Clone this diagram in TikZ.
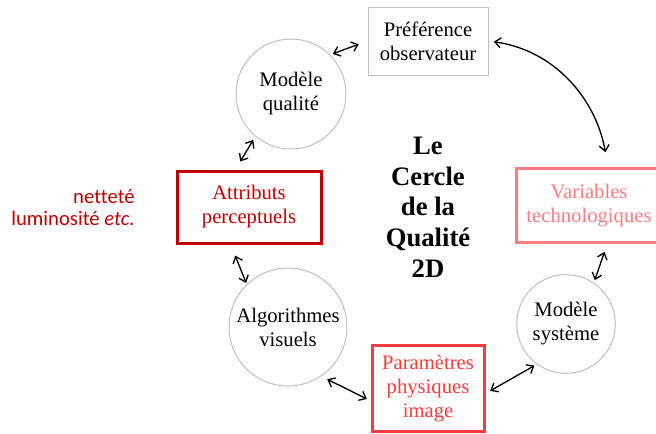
\documentclass[tikz,border=0pt]{standalone}
\usepackage{fontspec}
\setmainfont{Liberation Serif}
\newfontfamily\notefont[Ligatures=NoCommon]{Carlito}
\usepackage{xcolor}
\usepackage{tikz}
\usetikzlibrary{arrows.meta,calc}
\definecolor{cAttr}{HTML}{C00000}
\definecolor{cVar}{HTML}{FF7C80}
\definecolor{cParam}{HTML}{FF3B3B}
\definecolor{cGrey}{HTML}{BFBFBF}

\begin{document}
\begin{tikzpicture}[x=0.75pt,y=-0.75pt]
  \tikzset{
    txt/.style={align=center, font=\fontsize{15.5}{18}\selectfont, inner sep=0pt},
    grbox/.style={txt, draw=cGrey, line width=0.75pt, rectangle},
    redbox/.style={txt, draw=#1, text=#1, line width=2.25pt, rectangle},
    ring/.style={txt, draw=cGrey, line width=0.75pt, circle},
    dbl/.style={{Straight Barb[length=4.5pt,width=7.5pt]}-{Straight Barb[length=4.5pt,width=7.5pt]}, line width=1pt},
  }
  \useasboundingbox (0,0) rectangle (656,433);
  % boxes
  \node[grbox, minimum width=90pt, minimum height=51pt] (pref) at (428,41) {Préférence\\observateur};
  \node[redbox=cAttr, minimum width=108pt, minimum height=54pt] (attr) at (249,207) {Attributs\\perceptuels};
  \node[redbox=cVar, minimum width=109.5pt, minimum height=56pt] (var) at (589,205.5) {Variables\\technologiques};
  \node[redbox=cParam, minimum width=84pt, minimum height=64pt] (param) at (428,388.5) {Paramètres\\physiques\\image};
  % circles
  \node[ring, minimum size=82.5pt] (qual) at (291,94) {Modèle\\qualité};
  \node[ring, minimum size=74pt] (sys) at (566,324) {Modèle\\système};
  \node[ring, minimum size=88.5pt] (algo) at (288,327) {Algorithmes\\visuels};
  % texts
  \node[align=center, font=\fontsize{20}{23}\selectfont\bfseries] (title) at (428,207)
    {Le\\Cercle\\de la\\Qualité\\2D};
  \node[align=right, anchor=east, text=cAttr, inner sep=0pt,
    font=\notefont\fontsize{15.5}{16.5}\selectfont] (note) at (135,208)
    {netteté\\luminosité \textit{etc.}};
  % links
  \draw[dbl, shorten <=2pt, shorten >=7pt] (qual.45) -- (pref.west);
  \draw[dbl, shorten <=3pt, shorten >=7pt] (qual.230) -- (attr.110);
  \draw[dbl, shorten <=9pt, shorten >=1pt] (attr.244) -- (algo.134);
  \draw[dbl, shorten <=5pt, shorten >=3pt] (algo.-56) -- (param.192);
  \draw[dbl, shorten <=4pt, shorten >=2pt] (param.-5) -- (sys.234);
  \draw[dbl, shorten <=6pt, shorten >=2pt] (var.-65) -- (sys.56);
  \draw[dbl, shorten <=4pt, shorten >=11pt] (pref.east) to[out=-8, in=100] (var.64);
\end{tikzpicture}
\end{document}
